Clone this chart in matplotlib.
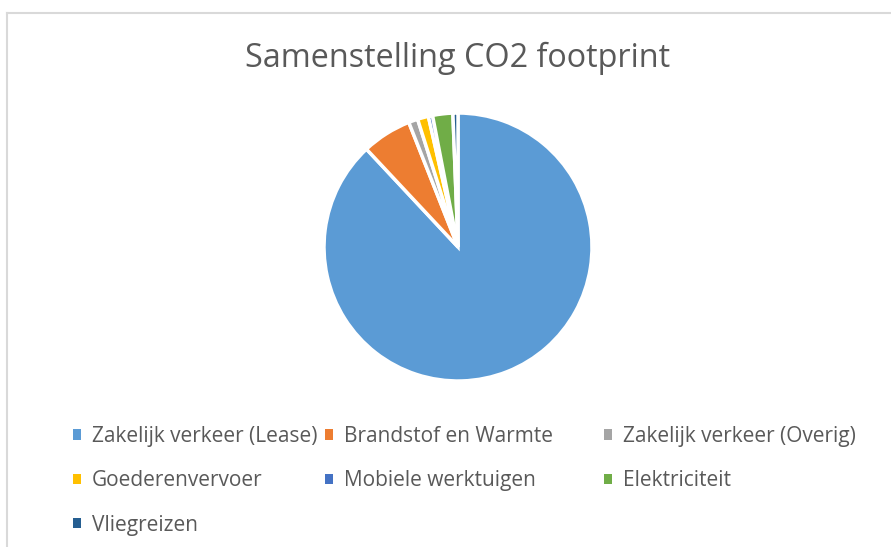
import matplotlib.pyplot as plt
from matplotlib.lines import Line2D

# slices, clockwise from the top (Excel order)
categories = [
    'Zakelijk verkeer (Lease)',
    'Brandstof en Warmte',
    'Zakelijk verkeer (Overig)',
    'Goederenvervoer',
    'Mobiele werktuigen',
    'Elektriciteit',
    'Vliegreizen',
]
shares = [86.8, 5.9, 1.1, 1.3, 0.5, 2.4, 0.6]
colors = ['#5B9BD5', '#ED7D31', '#A5A5A5', '#FFC000', '#4472C4', '#70AD47', '#255E91']
title = 'Samenstelling CO2 footprint'

# legend columns as laid out in the picture (indices into categories)
legend_columns = [[0, 3, 6], [1, 4], [2, 5]]
legend_x = [73, 325, 604]

W, H = 891, 547
plt.rcParams['font.family'] = ['Open Sans', 'DejaVu Sans']
text_color = '#595959'

fig = plt.figure(figsize=(W / 100, H / 100), dpi=100)

# chart border (only left and top visible in the crop)
fig.add_artist(Line2D([7 / W, 7 / W], [0, 1 - 13 / H], transform=fig.transFigure,
                      color='#D9D9D9', lw=1.5))
fig.add_artist(Line2D([7 / W, 1], [1 - 13 / H, 1 - 13 / H], transform=fig.transFigure,
                      color='#D9D9D9', lw=1.5))

cx, cy, r = 458, 247, 134
ax = fig.add_axes([(cx - r) / W, 1 - (cy + r) / H, 2 * r / W, 2 * r / H])
wedges, _ = ax.pie(shares, colors=colors, startangle=90, counterclock=False,
                   wedgeprops=dict(edgecolor='white', linewidth=2.5))
ax.set_xlim(-1.0, 1.0)
ax.set_ylim(-1.0, 1.0)
ax.set_aspect('equal')
ax.axis('off')

fig.text(cx / W, 1 - 58 / H, title, ha='center', va='center',
         fontsize=23.3, color=text_color)

for col, x in zip(legend_columns, legend_x):
    leg = fig.legend([wedges[i] for i in col], [categories[i] for i in col],
                     loc='upper left', bbox_to_anchor=(x / W, 1 - 426 / H),
                     frameon=False, borderpad=0, borderaxespad=0,
                     handlelength=0.4, handleheight=0.4, handletextpad=0.5,
                     labelspacing=1.12, fontsize=15, labelcolor=text_color)
    for h in leg.legend_handles:
        h.set_edgecolor('none')

fig.savefig('out.png', dpi=100)
